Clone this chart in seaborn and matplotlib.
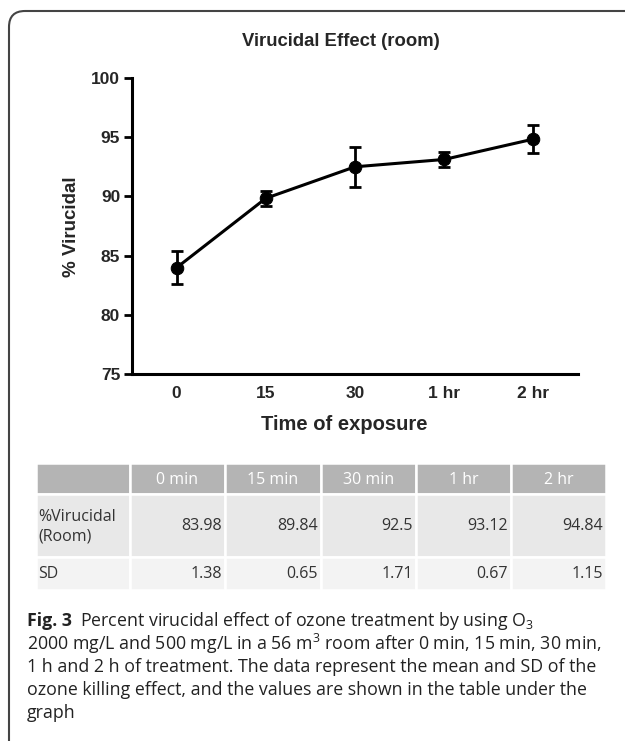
import pandas as pd
import matplotlib
matplotlib.use("Agg")
import matplotlib.pyplot as plt
import seaborn as sns
from matplotlib.patches import Rectangle, FancyBboxPatch

# chart data
times = ["0", "15", "30", "1 hr", "2 hr"]
table_cols = ["0 min", "15 min", "30 min", "1 hr", "2 hr"]
virucidal = [83.98, 89.84, 92.5, 93.12, 94.84]
sd = [1.38, 0.65, 1.71, 0.67, 1.15]
yticks = [75, 80, 85, 90, 95, 100]

df = pd.DataFrame({"time": times, "virucidal": virucidal, "sd": sd})

sns.set_theme(style="ticks")
plt.rcParams["font.family"] = ["Liberation Sans", "DejaVu Sans"]
plt.rcParams["mathtext.fontset"] = "custom"
plt.rcParams["mathtext.rm"] = "Open Sans"

W, H = 625, 741
fig = plt.figure(figsize=(W / 100, H / 100), dpi=100)
fig.patch.set_facecolor("white")


def fx(x):
    return x / W


def fy(y):
    return 1 - y / H


# main chart axes
ax = fig.add_axes([fx(132), fy(374), fx(578) - fx(132), fy(78) - fy(374)])
ax.errorbar(df["time"], df["virucidal"], yerr=df["sd"], fmt="none",
            ecolor="black", elinewidth=2.0, capsize=4.5, capthick=2.0, zorder=2)
sns.lineplot(data=df, x="time", y="virucidal", color="black", linewidth=2.2,
             marker="o", markersize=9, markeredgecolor="black", ax=ax, zorder=3)

ax.set_xlim(-0.5, 4.5)
ax.set_ylim(75, 100)
ax.set_yticks(yticks)
ax.set_yticklabels([str(t) for t in yticks], fontsize=12.5, fontweight="bold")
ax.set_xticks(range(len(times)))
ax.set_xticklabels(times, fontsize=12.5, fontweight="bold")
ax.tick_params(axis="y", length=5.5, width=2.0, pad=3, color="black")
ax.tick_params(axis="x", length=0, pad=9)
for side in ["top", "right"]:
    ax.spines[side].set_visible(False)
for side in ["left", "bottom"]:
    ax.spines[side].set_linewidth(2.2)
    ax.spines[side].set_color("black")
ax.set_xlabel("")
ax.set_ylabel("")

fig.text(fx(341), fy(41), "Virucidal Effect (room)", ha="center", va="center",
         fontsize=13.3, fontweight="bold")
fig.text(fx(344), fy(425), "Time of exposure", ha="center", va="center",
         fontsize=14.5, fontweight="bold")
fig.text(fx(72), fy(227), "% Virucidal", ha="center", va="center",
         rotation=90, fontsize=13.5, fontweight="bold")

# overlay in pixel coordinates for border, table and caption
ov = fig.add_axes([0, 0, 1, 1], zorder=-1)
ov.set_xlim(0, W)
ov.set_ylim(H, 0)
ov.axis("off")

ov.add_patch(FancyBboxPatch((9, 11), 800, 900, boxstyle="round,pad=0,rounding_size=16",
                            fill=False, edgecolor="#444444", linewidth=1.5))

# table
col_edges = [36, 130, 225, 321, 416, 511, 606]
row_edges = [463, 494, 557, 590]
row_colors = ["#b4b4b4", "#e8e8e8", "#f3f3f3"]
tfont = ["Open Sans", "DejaVu Sans"]
for r in range(3):
    for c in range(6):
        ov.add_patch(Rectangle((col_edges[c], row_edges[r]),
                               col_edges[c + 1] - col_edges[c],
                               row_edges[r + 1] - row_edges[r],
                               facecolor=row_colors[r], edgecolor="white", linewidth=1.8))

for c, name in enumerate(table_cols):
    ov.text((col_edges[c + 1] + col_edges[c + 2]) / 2, (row_edges[0] + row_edges[1]) / 2 + 1,
            name, ha="center", va="center", color="white", fontsize=11.5, family=tfont)

row_labels = ["%Virucidal\n(Room)", "SD"]
row_values = [virucidal, sd]
for r, (lab, vals) in enumerate(zip(row_labels, row_values)):
    yc = (row_edges[r + 1] + row_edges[r + 2]) / 2 + 1
    ov.text(col_edges[0] + 2, yc, lab, ha="left", va="center", color="#333333",
            fontsize=11.5, family=tfont, linespacing=1.3)
    for c, v in enumerate(vals):
        ov.text(col_edges[c + 2] - 3, yc, f"{v:g}", ha="right", va="center",
                color="#333333", fontsize=11.5, family=tfont)

# caption
cap_font = ["Open Sans", "DejaVu Sans"]
cap_size = 12.8
fig_lbl = ov.text(27, 621, "Fig. 3", ha="left", va="center", fontsize=cap_size,
                  fontweight="bold", family=cap_font, color="#222222")
fig.canvas.draw()
bb = fig_lbl.get_window_extent().transformed(ov.transData.inverted())
ov.text(bb.x1 + 8, 621, r"Percent virucidal effect of ozone treatment by using O$_\mathrm{3}$",
        ha="left", va="center", fontsize=cap_size, family=cap_font, color="#222222")
cap_lines = [
    r"2000 mg/L and 500 mg/L in a 56 m$^\mathrm{3}$ room after 0 min, 15 min, 30 min,",
    "1 h and 2 h of treatment. The data represent the mean and SD of the",
    "ozone killing effect, and the values are shown in the table under the",
    "graph",
]
for i, line in enumerate(cap_lines):
    ov.text(27, 644 + 23 * i, line, ha="left", va="center", fontsize=cap_size,
            family=cap_font, color="#222222")

fig.savefig("out.png", dpi=100)
